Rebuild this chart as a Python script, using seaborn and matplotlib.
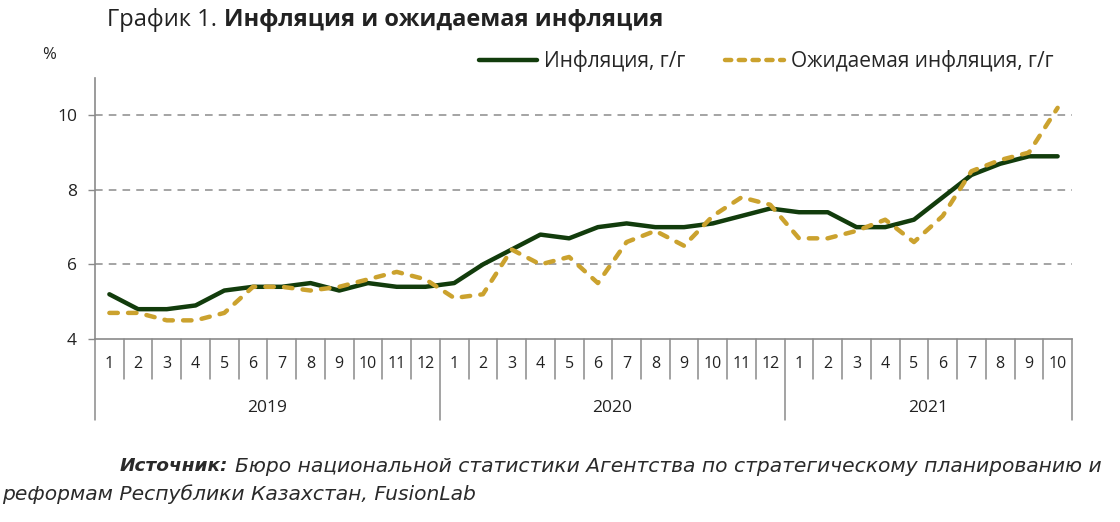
import numpy as np
import pandas as pd
import seaborn as sns
import matplotlib.pyplot as plt
import matplotlib.transforms as mtransforms
from matplotlib.lines import Line2D

# данные
years = ['2019'] * 12 + ['2020'] * 12 + ['2021'] * 10
months = list(range(1, 13)) + list(range(1, 13)) + list(range(1, 11))
inflation = [5.2, 4.8, 4.8, 4.9, 5.3, 5.4, 5.4, 5.5, 5.3, 5.5, 5.4, 5.4,
             5.5, 6.0, 6.4, 6.8, 6.7, 7.0, 7.1, 7.0, 7.0, 7.1, 7.3, 7.5,
             7.4, 7.4, 7.0, 7.0, 7.2, 7.8, 8.4, 8.7, 8.9, 8.9]
expected = [4.7, 4.7, 4.5, 4.5, 4.7, 5.4, 5.4, 5.3, 5.4, 5.6, 5.8, 5.6,
            5.1, 5.2, 6.4, 6.0, 6.2, 5.5, 6.6, 6.9, 6.5, 7.3, 7.8, 7.6,
            6.7, 6.7, 6.9, 7.2, 6.6, 7.3, 8.5, 8.8, 9.0, 10.2]
yticks = [4, 6, 8, 10]

df = pd.DataFrame({'pos': np.arange(len(months)), 'year': years, 'month': months,
                   'infl': inflation, 'exp': expected})

green = '#123c0c'
gold = '#cba22e'
txt = '#222222'

sns.set_theme(style='white')
plt.rcParams['font.family'] = ['Open Sans', 'DejaVu Sans']

W, H = 1120, 522
fig = plt.figure(figsize=(11.2, 5.22), dpi=100)
ax = fig.add_axes([95 / W, 1 - 339 / H, (1072 - 95) / W, (339 - 78) / H])

sns.lineplot(data=df, x='pos', y='infl', ax=ax, color=green, linewidth=3.2,
             solid_joinstyle='round', solid_capstyle='round', zorder=3)
sns.lineplot(data=df, x='pos', y='exp', ax=ax, color=gold, linewidth=3.2,
             dashes=(1.9, 2.3), dash_capstyle='round', dash_joinstyle='round', zorder=4)

ax.set_xlim(-0.5, len(months) - 0.5)
ax.set_ylim(4, 11)
ax.set_yticks(yticks)
ax.set_yticklabels([str(v) for v in yticks], fontsize=12.5, color=txt)
ax.tick_params(axis='y', length=5, width=1, color='#8a8a8a', direction='out', left=True, pad=8)
for v in yticks[1:]:
    ax.axhline(v, color='#8c8c8c', linestyle=(0, (5, 4)), linewidth=1.1, zorder=1)

for s in ['top', 'right']:
    ax.spines[s].set_visible(False)
for s in ['left', 'bottom']:
    ax.spines[s].set_color('#8a8a8a')
    ax.spines[s].set_linewidth(1.2)

# ось категорий: месяцы и годы
ax.set_xticks(df['pos'])
ax.set_xticklabels([str(m) for m in months], fontsize=11.5, color=txt)
ax.tick_params(axis='x', length=0, pad=12)
ax.set_xlabel('')
ax.set_ylabel('')

trans = mtransforms.blended_transform_factory(ax.transData, ax.transAxes)
axh = (339 - 78)
bounds = np.arange(len(months) + 1) - 0.5
year_edges = [0] + [i for i in range(1, len(years)) if years[i] != years[i - 1]] + [len(years)]
for b in bounds:
    idx = int(b + 0.5)
    y_end = -(420 - 339) / axh if idx in year_edges else -(379 - 339) / axh
    ax.plot([b, b], [0, y_end], transform=trans, color='#8a8a8a', linewidth=1.1, clip_on=False)

for a, b in zip(year_edges[:-1], year_edges[1:]):
    ax.text((a + b - 1) / 2, -(408 - 339) / axh, years[a], transform=trans,
            ha='center', va='center', fontsize=12.5, color=txt)

renderer = fig.canvas.get_renderer()


def fit(t, width_px):
    w = t.get_window_extent(renderer).width
    t.set_fontsize(t.get_fontsize() * width_px / w)


# заголовок
t2 = fig.text(205 / W, 1 - 20 / H, 'Инфляция и ожидаемая инфляция', fontsize=15,
              fontweight='bold', va='center', ha='left', color=txt)
fit(t2, 440)
t1 = fig.text(107 / W, 1 - 20 / H, 'График 1.', fontsize=t2.get_fontsize(),
              va='center', ha='left', color=txt)
x_end = t1.get_window_extent(renderer).x1
t2.set_x((x_end + 7) / W)
fig.text(42 / W, 1 - 55 / H, '%', fontsize=12, va='center', ha='left', color=txt)

handles = [Line2D([], [], color=green, linewidth=3.2),
           Line2D([], [], color=gold, linewidth=3.2, dashes=(1.4, 1.7), dash_capstyle='round')]
fig.legend(handles, ['Инфляция, г/г', 'Ожидаемая инфляция, г/г'], loc='center',
           bbox_to_anchor=(766 / W, 1 - 61 / H), ncol=2, frameon=False,
           fontsize=15, handlelength=2.8, handletextpad=0.35, columnspacing=1.9)

# источник
s1 = fig.text(120 / W, 1 - 466 / H, 'Источник:', fontsize=12.5, fontweight='bold',
              fontstyle='italic', va='center', ha='left', color='#2a2a2a', family='DejaVu Sans')
fit(s1, 108)
s2 = fig.text(235 / W, 1 - 466 / H,
              'Бюро национальной статистики Агентства по стратегическому планированию и',
              fontsize=12.5, fontstyle='italic', va='center', ha='left', color='#2a2a2a',
              family='DejaVu Sans')
fit(s2, 868)
fig.text(2 / W, 1 - 494 / H, 'реформам Республики Казахстан, FusionLab',
         fontsize=s2.get_fontsize(), fontstyle='italic', va='center', ha='left',
         color='#2a2a2a', family='DejaVu Sans')

fig.savefig('out.png', dpi=100)
